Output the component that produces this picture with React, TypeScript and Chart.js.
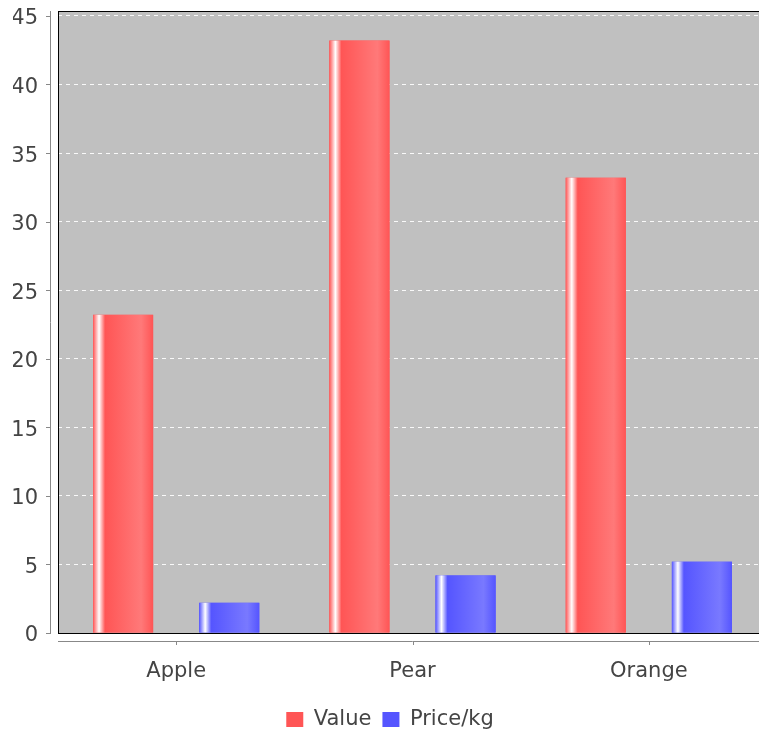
import { useEffect, useRef } from 'react';
import { Chart, registerables } from 'chart.js';

Chart.register(...registerables);

const categories = ['Apple', 'Pear', 'Orange'];
const valueSeries = [23.2, 43.2, 33.2];
const priceSeries = [2.2, 4.2, 5.2];
const seriesLabels = ['Value', 'Price/kg'];
const seriesColors = ['#FF5555', '#5555FF'];
const seriesBrighter = ['#FF7979', '#7979FF'];
const yMax = 45.36;
const yStep = 5;

const FONT = 'DejaVu Sans';
const TEXT = '#444444';
const AXIS = '#888888';

const plotPlugin = {
  id: 'jfreePlot',
  beforeDraw(chart: any) {
    const { ctx, chartArea: a } = chart;
    ctx.save();
    ctx.fillStyle = '#C0C0C0';
    ctx.fillRect(a.left, a.top, a.right - a.left, a.bottom - a.top);
    ctx.restore();
  },
  afterDatasetsDraw(chart: any) {
    const { ctx, chartArea: a } = chart;
    ctx.save();
    chart.data.datasets.forEach((_ds: any, di: number) => {
      const meta = chart.getDatasetMeta(di);
      meta.data.forEach((el: any) => {
        const { x, y, base, width } = el.getProps(['x', 'y', 'base', 'width'], true);
        const left = x - width / 2;
        const top = Math.min(y, base);
        const h = Math.abs(base - y);
        const c0 = seriesColors[di];
        const c1 = seriesBrighter[di];
        const g = ctx.createLinearGradient(left, 0, left + width, 0);
        g.addColorStop(0, c0);
        g.addColorStop(0.1, '#FFFFFF');
        g.addColorStop(0.2, c0);
        g.addColorStop(0.8, c1);
        g.addColorStop(1, c0);
        ctx.fillStyle = g;
        ctx.fillRect(left, top, width, h);
      });
    });
    // plot outline
    ctx.strokeStyle = '#000000';
    ctx.lineWidth = 1;
    ctx.strokeRect(a.left + 0.5, a.top + 0.5, a.right - a.left, a.bottom - a.top);
    // y axis line and ticks
    ctx.strokeStyle = AXIS;
    ctx.beginPath();
    ctx.moveTo(a.left - 7.5, a.top);
    ctx.lineTo(a.left - 7.5, a.bottom + 1);
    const ys = chart.scales.y;
    ys.ticks.forEach((t: any) => {
      const py = Math.round(ys.getPixelForValue(t.value)) + 0.5;
      ctx.moveTo(a.left - 12, py);
      ctx.lineTo(a.left - 7.5, py);
    });
    // x axis line and ticks
    const xs = chart.scales.x;
    ctx.moveTo(a.left, a.bottom + 8.5);
    ctx.lineTo(a.right, a.bottom + 8.5);
    categories.forEach((_c, i) => {
      const px = Math.round(xs.getPixelForValue(i)) + 0.5;
      ctx.moveTo(px, a.bottom + 8.5);
      ctx.lineTo(px, a.bottom + 12);
    });
    ctx.stroke();
    ctx.restore();
  },
};

export default function App() {
  const ref = useRef<HTMLCanvasElement>(null);
  useEffect(() => {
    if (!ref.current) return;
    const chart = new Chart(ref.current, {
      type: 'bar',
      data: {
        labels: categories,
        datasets: [
          {
            label: seriesLabels[0],
            data: valueSeries,
            backgroundColor: seriesColors[0],
            borderWidth: 0,
            categoryPercentage: 0.8983,
            barPercentage: 0.566,
          },
          {
            label: seriesLabels[1],
            data: priceSeries,
            backgroundColor: seriesColors[1],
            borderWidth: 0,
            categoryPercentage: 0.8983,
            barPercentage: 0.566,
          },
        ],
      },
      options: {
        animation: false,
        responsive: true,
        maintainAspectRatio: false,
        layout: { padding: { left: 13, right: 13, top: 11, bottom: -7 } },
        plugins: {
          tooltip: { enabled: false },
          legend: {
            position: 'bottom',
            labels: {
              font: { family: FONT, size: 21 },
              color: TEXT,
              boxWidth: 17,
              boxHeight: 15,
              padding: 11,
            },
          },
        },
        scales: {
          x: {
            type: 'category',
            offset: true,
            grid: { display: false, drawTicks: false },
            border: { display: false },
            ticks: { font: { family: FONT, size: 21 }, color: TEXT, padding: 26 },
            afterFit: (s: any) => {
              s.height = 65;
              s.paddingLeft = 0;
              s.paddingRight = 0;
            },
          },
          y: {
            min: 0,
            max: yMax,
            grid: { color: 'rgba(255,255,255,0.9)', lineWidth: 1, drawTicks: false },
            border: { display: false, dash: [4, 4] },
            ticks: {
              stepSize: yStep,
              includeBounds: false,
              autoSkip: false,
              font: { family: FONT, size: 21 },
              color: TEXT,
              padding: 20,
              labelOffset: 3,
            },
            afterFit: (s: any) => {
              s.width = 45;
              s.paddingTop = 0;
              s.paddingBottom = 0;
            },
          },
        },
      },
      plugins: [plotPlugin],
    });
    return () => chart.destroy();
  }, []);
  return (
    <div style={{ position: 'fixed', left: 0, top: 0, width: 759, height: 733, overflow: 'hidden', background: '#fff' }}>
      <div style={{ position: 'relative', width: 780, height: 733 }}>
        <canvas ref={ref} />
      </div>
    </div>
  );
}
